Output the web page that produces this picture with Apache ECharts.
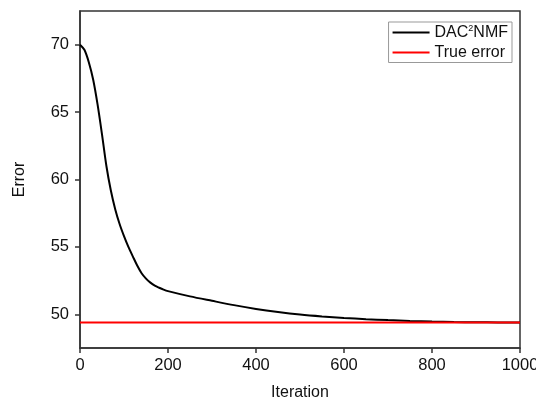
<!DOCTYPE html>
<html>
<head>
<meta charset="utf-8">
<script src="https://cdn.jsdelivr.net/npm/echarts@6/dist/echarts.min.js"></script>
<style>html,body{margin:0;padding:0;background:#fff;}#c{width:536px;height:403px;}</style>
</head>
<body>
<div id="c"></div>
<script>
var iterations = [0, 10, 20, 30, 40, 50, 60, 70, 80, 90, 100, 110, 120, 130, 140, 150, 160, 170, 180, 190, 200, 250, 300, 350, 400, 450, 500, 550, 600, 650, 700, 750, 800, 850, 900, 950, 1000];
var dacError   = [70, 69.62, 68.7, 67.4, 65.55, 63.35, 61.0, 59.2, 57.8, 56.7, 55.8, 55.0, 54.3, 53.62, 53.05, 52.65, 52.35, 52.13, 51.97, 51.83, 51.72, 51.33, 51.0, 50.68, 50.4, 50.17, 49.98, 49.84, 49.73, 49.64, 49.57, 49.51, 49.46, 49.43, 49.41, 49.4, 49.4];
var trueError = 49.4;
var xTicks = [0, 200, 400, 600, 800, 1000];
var yTicks = [50, 55, 60, 65, 70];
var seriesNames = ['DAC2NMF', 'True error'];

var blackData = iterations.map(function (x, i) { return [x, dacError[i]]; });
var redData = [[0, trueError], [1000, trueError]];

var chart = echarts.init(document.getElementById('c'), null, {renderer: 'canvas'});
var font = 'Liberation Sans, Arial, sans-serif';
chart.setOption({
  animation: false,
  backgroundColor: '#fff',
  textStyle: {fontFamily: font},
  grid: {left: 80, right: 16, top: 11, bottom: 55, containLabel: false, outerBoundsMode: 'none',
         show: true, borderColor: '#333', borderWidth: 1.5},
  legend: {
    orient: 'vertical',
    right: 24, top: 22,
    padding: [2, 4, 2, 3],
    itemGap: 4,
    itemWidth: 37, itemHeight: 16,
    borderColor: '#999', borderWidth: 1,
    itemStyle: {opacity: 0},
    data: seriesNames,
    textStyle: {fontSize: 16, color: '#111', fontFamily: font,
      rich: {a: {fontSize: 16, color: '#111', fontFamily: font}, s: {fontSize: 9, color: '#111', fontFamily: font, padding: [0, 0, 8, 0]}}},
    formatter: function (n) { return n === 'DAC2NMF' ? '{a|DAC}{s|2}{a|NMF}' : '{a|' + n + '}'; }
  },
  xAxis: {
    type: 'value', min: 0, max: 1000, interval: 200,
    name: 'Iteration', nameLocation: 'middle', nameGap: 37,
    nameTextStyle: {fontSize: 16, color: '#111', fontFamily: font},
    axisLine: {lineStyle: {color: '#333', width: 1.5}},
    axisTick: {show: true, length: 5, lineStyle: {color: '#333', width: 1.5}, customValues: xTicks},
    axisLabel: {fontSize: 16.5, color: '#111', margin: 9, customValues: xTicks, fontFamily: font,
                formatter: function (v) { return String(v); }},
    splitLine: {show: false}
  },
  yAxis: {
    type: 'value', min: 47.5, max: 72.5,
    name: 'Error', nameLocation: 'middle', nameGap: 52, nameRotate: 90,
    nameTextStyle: {fontSize: 16, color: '#111', fontFamily: font},
    axisLine: {lineStyle: {color: '#333', width: 1.5}},
    axisTick: {show: true, length: 5, lineStyle: {color: '#333', width: 1.5}, customValues: yTicks},
    axisLabel: {fontSize: 16.5, color: '#111', margin: 11, customValues: yTicks, fontFamily: font},
    splitLine: {show: false}
  },
  series: [
    {name: 'DAC2NMF', type: 'line', data: blackData, smooth: 0.3, symbol: 'none', lineStyle: {color: '#000', width: 2}, itemStyle: {color: '#000'}, z: 2},
    {name: 'True error', type: 'line', data: redData, symbol: 'none', lineStyle: {color: '#ff0000', width: 2}, itemStyle: {color: '#ff0000'}, z: 3}
  ]
});
</script>
</body>
</html>
